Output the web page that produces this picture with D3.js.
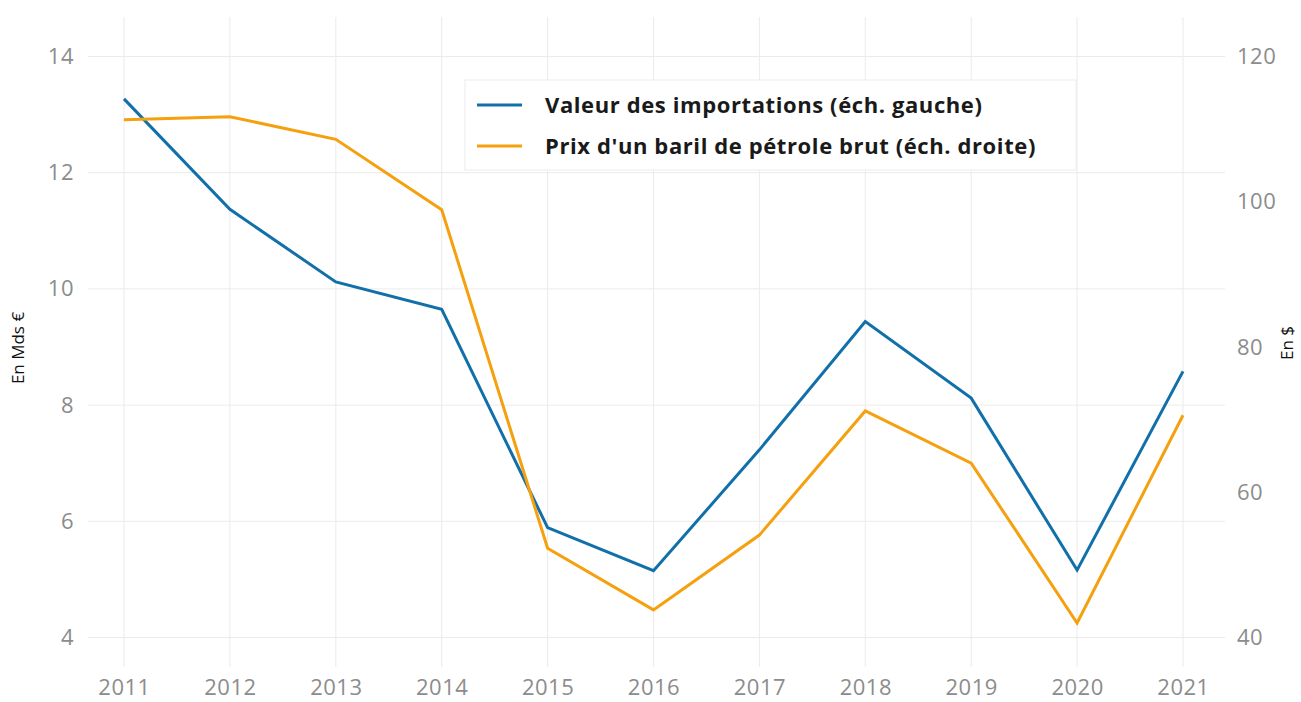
<!DOCTYPE html>
<html lang="fr">
<head>
<meta charset="UTF-8">
<script src="https://d3js.org/d3.v7.min.js"></script>
<style>
  body { margin: 0; background: #fff; }
  svg { display: block; font-family: "Open Sans", sans-serif; }
</style>
</head>
<body>
<script>
// data
var years = [2011, 2012, 2013, 2014, 2015, 2016, 2017, 2018, 2019, 2020, 2021];
var imports = [13.27, 11.37, 10.12, 9.65, 5.89, 5.15, 7.23, 9.44, 8.12, 5.16, 8.58]; // Mds €, left axis
var brent = [111.3, 111.7, 108.6, 98.9, 52.3, 43.8, 54.1, 71.2, 64.0, 42.0, 70.6];  // $, right axis
var leftTicks = [4, 6, 8, 10, 12, 14];
var rightTicks = [40, 60, 80, 100, 120];
var seriesNames = ["Valeur des importations (éch. gauche)", "Prix d'un baril de pétrole brut (éch. droite)"];
var colors = ["#1170aa", "#f5a00f"];

var width = 1301, height = 702;
var panel = { left: 88, right: 1225, top: 17, bottom: 667 };

var svg = d3.select("body").append("svg")
    .attr("width", width)
    .attr("height", height);

var x = d3.scaleLinear().domain([2011, 2021]).range([124, 1183]);
var yL = d3.scaleLinear().domain([4, 14]).range([637.5, 56.5]);
var yR = d3.scaleLinear().domain([40, 120]).range([637.5, 56.5]);

// grid
var grid = svg.append("g").attr("stroke", "#ebebeb").attr("stroke-width", 1);
grid.selectAll(".gx").data(years).enter().append("line")
    .attr("x1", d => x(d)).attr("x2", d => x(d))
    .attr("y1", panel.top).attr("y2", panel.bottom);
grid.selectAll(".gy").data(leftTicks).enter().append("line")
    .attr("x1", panel.left).attr("x2", panel.right)
    .attr("y1", d => yL(d)).attr("y2", d => yL(d));

// axes (labels only, no domain lines)
var axisColor = "#8c8c8c";
function styleAxis(g) {
    g.select(".domain").remove();
    g.selectAll(".tick line").remove();
    g.selectAll(".tick text").attr("fill", axisColor)
        .style("font-size", "22px").style("letter-spacing", "0.5px")
        .style("font-family", "Open Sans, sans-serif");
}
svg.append("g")
    .attr("transform", "translate(0," + panel.bottom + ")")
    .call(d3.axisBottom(x).tickValues(years).tickFormat(d3.format("d")).tickSize(0).tickPadding(12))
    .call(styleAxis);
svg.append("g")
    .attr("transform", "translate(" + (panel.left - 14) + ",0)")
    .call(d3.axisLeft(yL).tickValues(leftTicks).tickSize(0).tickPadding(0))
    .call(styleAxis);
svg.append("g")
    .attr("transform", "translate(" + (panel.right + 12) + ",0)")
    .call(d3.axisRight(yR).tickValues(rightTicks).tickSize(0).tickPadding(0))
    .call(styleAxis);

// axis titles
svg.append("text")
    .attr("transform", "translate(24,348) rotate(-90)")
    .attr("text-anchor", "middle")
    .attr("fill", "#111")
    .style("font-size", "17px").style("font-weight", 500)
    .text("En Mds €");
svg.append("text")
    .attr("transform", "translate(1293,343) rotate(-90)")
    .attr("text-anchor", "middle")
    .attr("fill", "#111")
    .style("font-size", "17px").style("font-weight", 500)
    .text("En $");

// lines
var lineL = d3.line().x((d, i) => x(years[i])).y(d => yL(d));
var lineR = d3.line().x((d, i) => x(years[i])).y(d => yR(d));
svg.append("path").datum(imports)
    .attr("d", lineL).attr("fill", "none")
    .attr("stroke", colors[0]).attr("stroke-width", 3);
svg.append("path").datum(brent)
    .attr("d", lineR).attr("fill", "none")
    .attr("stroke", colors[1]).attr("stroke-width", 3);

// legend
var legend = svg.append("g").attr("transform", "translate(465,80)");
legend.append("rect")
    .attr("width", 611).attr("height", 90)
    .attr("fill", "#fff").attr("stroke", "#ececec");
var items = legend.selectAll(".item").data(seriesNames).enter().append("g")
    .attr("transform", (d, i) => "translate(0," + (25 + i * 41) + ")");
items.append("line")
    .attr("x1", 12).attr("x2", 57)
    .attr("stroke", (d, i) => colors[i]).attr("stroke-width", 3);
items.append("text")
    .attr("x", 80).attr("dy", "0.35em")
    .attr("fill", "#1a1a1a")
    .style("font-size", "22px").style("font-weight", 700)
    .style("letter-spacing", "0.6px")
    .text(d => d);
</script>
</body>
</html>
